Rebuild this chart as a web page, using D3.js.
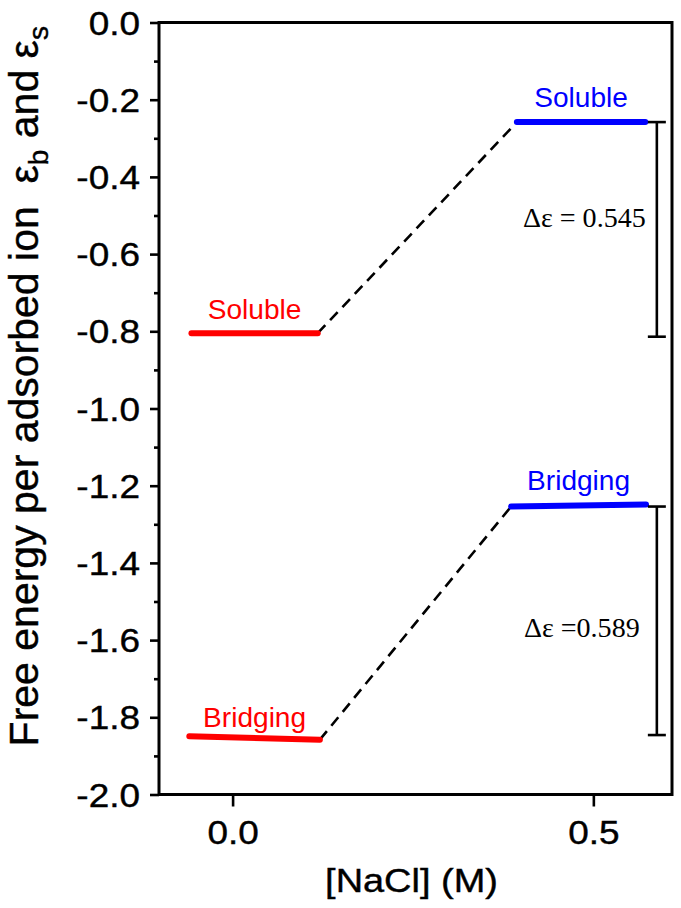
<!DOCTYPE html>
<html>
<head>
<meta charset="utf-8">
<script src="https://cdn.jsdelivr.net/npm/d3@7"></script>
<style>
  html, body { margin: 0; padding: 0; background: #fff; }
  svg { display: block; }
  text { font-family: "Liberation Sans", Arial, Helvetica, sans-serif; }
</style>
</head>
<body>
<svg id="chart" width="681" height="908"></svg>
<script>
// ---------------- data ----------------
const yMajorTicks = [0, -0.2, -0.4, -0.6, -0.8, -1.0, -1.2, -1.4, -1.6, -1.8, -2.0];
const yMinorTicks = [-0.1, -0.3, -0.5, -0.7, -0.9, -1.1, -1.3, -1.5, -1.7, -1.9];
const xTicks = [0.0, 0.5];

// energy levels (x extent in [NaCl] units, y = free energy)
const solubleLowX   = [-0.057, 0.118];
const solubleLowY   = [-0.805, -0.805];
const bridgingLowX  = [-0.060, 0.121];
const bridgingLowY  = [-1.849, -1.858];
const solubleHighX  = [0.394, 0.572];
const solubleHighY  = [-0.258, -0.258];
const bridgingHighX = [0.386, 0.573];
const bridgingHighY = [-1.254, -1.249];

// label baselines (free-energy units)
const levelLabelY = { solubleLow: -0.768, bridgingLow: -1.825, solubleHigh: -0.219, bridgingHigh: -1.211 };

// delta brackets
const deltaX = 0.588;
const deltaTop = [-0.258, -1.254];
const deltaBottom = [-0.814, -1.846];
const deltaLabels = ["\u0394\u03b5 = 0.545", "\u0394\u03b5 =0.589"];
const deltaLabelX = [0.4875, 0.484];
const deltaLabelY = [-0.529, -1.591];

// ---------------- layout ----------------
const svg = d3.select("#chart");
const L = 159, R = 672, T = 22.5, B = 794.5;
const x = d3.scaleLinear().domain([-0.102, 0.609]).range([L, R]);
const y = d3.scaleLinear().domain([-2, 0]).range([B, T]);

// place text at (px,py) with a horizontal stretch k
function placed(parent, px, py, k) {
  return parent.append("text").attr("transform", `translate(${px},${py}) scale(${k},1)`);
}

// frame
svg.append("rect").attr("x", L).attr("y", T).attr("width", R - L).attr("height", B - T)
  .attr("fill", "none").attr("stroke", "#000").attr("stroke-width", 3);

// y axis major
const gy = svg.append("g").attr("transform", `translate(${L},0)`)
  .call(d3.axisLeft(y).tickValues(yMajorTicks).tickSize(9).tickPadding(9)
    .tickFormat(d => (Math.abs(d) < 1e-9 ? 0 : d).toFixed(1)));
gy.select(".domain").remove();
gy.selectAll(".tick line").attr("stroke", "#000").attr("stroke-width", 2.6);
gy.selectAll(".tick text").attr("font-size", 33).attr("fill", "#000").attr("x", 0).attr("dy", "0.35em")
  .attr("stroke", "#000").attr("stroke-width", 0.4)
  .attr("transform", "translate(-19,0) scale(1.12,1)")
  .style("font-family", "'Liberation Sans', Arial, sans-serif");

// y axis minor
const gym = svg.append("g").attr("transform", `translate(${L},0)`)
  .call(d3.axisLeft(y).tickValues(yMinorTicks).tickSize(5).tickFormat(""));
gym.select(".domain").remove();
gym.selectAll(".tick line").attr("stroke", "#000").attr("stroke-width", 2.6);

// x axis
const gx = svg.append("g").attr("transform", `translate(0,${B})`)
  .call(d3.axisBottom(x).tickValues(xTicks).tickSize(12).tickPadding(12).tickFormat(d => d.toFixed(1)));
gx.select(".domain").remove();
gx.selectAll(".tick line").attr("stroke", "#000").attr("stroke-width", 2.6);
gx.selectAll(".tick text").attr("font-size", 33).attr("fill", "#000").attr("y", 0).attr("dy", 0)
  .attr("stroke", "#000").attr("stroke-width", 0.4)
  .attr("transform", "translate(0,49) scale(1.12,1)")
  .style("font-family", "'Liberation Sans', Arial, sans-serif");

// axis titles
placed(svg, (L + R) / 2 - 4, 892, 1.15).attr("text-anchor", "middle")
  .attr("font-size", 33).attr("fill", "#000").attr("stroke", "#000").attr("stroke-width", 0.4)
  .text("[NaCl] (M)");

const yt = svg.append("text").attr("transform", `translate(38,${(T + 750) / 2}) rotate(-90)`)
  .attr("text-anchor", "middle").attr("font-size", 41).attr("fill", "#000")
  .attr("stroke", "#000").attr("stroke-width", 0.4);
yt.append("tspan").text("Free energy per adsorbed ion\u00a0\u00a0\u03b5");
yt.append("tspan").attr("font-size", 28).attr("dy", 10).text("b");
yt.append("tspan").attr("dy", -10).text(" and \u03b5");
yt.append("tspan").attr("font-size", 28).attr("dy", 10).text("s");

// dashed connectors
const line = d3.line().x(d => x(d[0])).y(d => y(d[1]));
const connectors = [
  [[solubleLowX[1], solubleLowY[1]], [solubleHighX[0], solubleHighY[0]]],
  [[bridgingLowX[1], bridgingLowY[1]], [bridgingHighX[0], bridgingHighY[0]]]
];
svg.selectAll("path.conn").data(connectors).join("path").attr("class", "conn")
  .attr("d", line).attr("fill", "none").attr("stroke", "#000").attr("stroke-width", 2.6)
  .attr("stroke-dasharray", "11,7");

// level segments
const levels = [
  { xs: solubleLowX, ys: solubleLowY, c: "#ff0000", name: "Soluble", ly: levelLabelY.solubleLow },
  { xs: bridgingLowX, ys: bridgingLowY, c: "#ff0000", name: "Bridging", ly: levelLabelY.bridgingLow },
  { xs: solubleHighX, ys: solubleHighY, c: "#0000ff", name: "Soluble", ly: levelLabelY.solubleHigh },
  { xs: bridgingHighX, ys: bridgingHighY, c: "#0000ff", name: "Bridging", ly: levelLabelY.bridgingHigh }
];
levels.forEach(l => {
  svg.append("path").attr("d", line([[l.xs[0], l.ys[0]], [l.xs[1], l.ys[1]]]))
    .attr("stroke", l.c).attr("stroke-width", 6).attr("stroke-linecap", "round").attr("fill", "none");
  placed(svg, x((l.xs[0] + l.xs[1]) / 2), y(l.ly), 1.04)
    .attr("text-anchor", "middle").attr("font-size", 27).attr("fill", l.c).text(l.name);
});

// delta brackets
deltaTop.forEach((t, i) => {
  const g = svg.append("g").attr("stroke", "#000").attr("stroke-width", 2.6);
  g.append("line").attr("x1", x(deltaX)).attr("x2", x(deltaX)).attr("y1", y(t)).attr("y2", y(deltaBottom[i]));
  g.append("line").attr("x1", x(deltaX) - 9).attr("x2", x(deltaX) + 9).attr("y1", y(t)).attr("y2", y(t));
  g.append("line").attr("x1", x(deltaX) - 9).attr("x2", x(deltaX) + 9).attr("y1", y(deltaBottom[i])).attr("y2", y(deltaBottom[i]));
  placed(svg, x(deltaLabelX[i]), y(deltaLabelY[i]), 1.04).attr("text-anchor", "middle")
    .attr("font-size", 27).attr("fill", "#000")
    .style("font-family", "'Liberation Serif', 'Times New Roman', serif")
    .text(deltaLabels[i]);
});
</script>
</body>
</html>
